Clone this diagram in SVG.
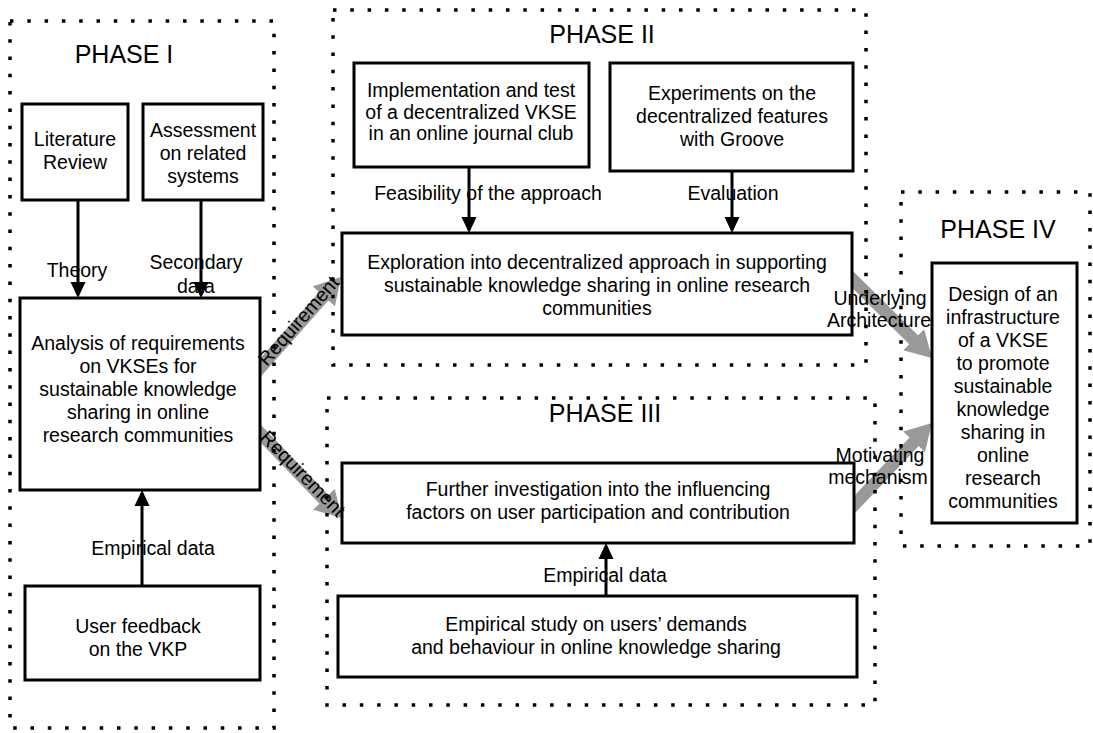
<svg xmlns="http://www.w3.org/2000/svg" width="1093" height="733" viewBox="0 0 1093 733">
  <style>
    text { font-family: "Liberation Sans", Arial, Helvetica, sans-serif; font-size: 19.5px; fill: #000; text-anchor: middle; }
    .title { font-size: 25px; }
    .phase { fill: none; stroke: #000; stroke-width: 3.5; stroke-dasharray: 3.5 13.8; }
    .box { fill: #fff; stroke: #000; stroke-width: 3; }
    .flow { stroke: #000; stroke-width: 3; fill: none; marker-end: url(#ah); }
    .feed { stroke: #999; stroke-width: 12.5; fill: none; marker-end: url(#gh); }
  </style>
  <defs>
    <marker id="ah" markerUnits="userSpaceOnUse" markerWidth="16" markerHeight="16" viewBox="0 0 16 16" refX="13" refY="8" orient="auto">
      <path d="M0,0.5 L16,8 L0,15.5 z" fill="#000"/>
    </marker>
    <marker id="gh" markerUnits="userSpaceOnUse" markerWidth="26" markerHeight="30" viewBox="0 0 26 30" refX="6" refY="15" orient="auto">
      <path d="M0,0 L26,15 L0,30 z" fill="#999"/>
    </marker>
  </defs>
  <rect width="1093" height="733" fill="#fff"/>

  <!-- arrows between the studies -->
  <g id="connectors">
    <line class="flow" x1="78" y1="200" x2="78" y2="295"/>
    <line class="flow" x1="201" y1="200" x2="201" y2="295"/>
    <line class="flow" x1="142" y1="586" x2="142" y2="493"/>
    <line class="flow" x1="469" y1="167" x2="469" y2="230"/>
    <line class="flow" x1="732" y1="171" x2="732" y2="230"/>
    <line class="flow" x1="606" y1="596" x2="606" y2="546"/>
    <line class="feed" x1="256" y1="372.5" x2="327.7" y2="291.9"/>
    <line class="feed" x1="256" y1="428.8" x2="328.1" y2="503.6"/>
    <line class="feed" x1="848" y1="275" x2="917.8" y2="343.9"/>
    <line class="feed" x1="850" y1="509.2" x2="918.2" y2="437.5"/>
  </g>

  <!-- phase frames -->
  <g id="phases">
    <rect id="phase-1" class="phase" x="10" y="21" width="264" height="707"/>
    <rect id="phase-2" class="phase" x="333" y="10" width="533" height="355"/>
    <rect id="phase-3" class="phase" x="327" y="398" width="548" height="307"/>
    <rect id="phase-4" class="phase" x="901" y="192" width="189" height="354"/>
    <text class="title" x="124" y="63">PHASE I</text>
    <text class="title" x="602" y="43">PHASE II</text>
    <text class="title" x="605" y="422">PHASE III</text>
    <text class="title" x="998" y="238">PHASE IV</text>
  </g>

  <!-- Phase I -->
  <g id="literature-review">
    <rect class="box" x="22" y="104" width="106" height="96"/>
    <text x="75" y="146">Literature</text>
    <text x="75" y="169">Review</text>
  </g>
  <g id="assessment">
    <rect class="box" x="143" y="104" width="120" height="96"/>
    <text x="203" y="137">Assessment</text>
    <text x="203" y="160">on related</text>
    <text x="203" y="183">systems</text>
  </g>
  <g id="analysis">
    <rect class="box" x="20" y="298" width="240" height="192"/>
    <text x="138" y="350">Analysis of requirements</text>
    <text x="138" y="373">on VKSEs for</text>
    <text x="138" y="396">sustainable knowledge</text>
    <text x="138" y="419">sharing in online</text>
    <text x="138" y="442">research communities</text>
  </g>
  <g id="user-feedback">
    <rect class="box" x="25" y="586" width="235" height="94"/>
    <text x="138" y="633">User feedback</text>
    <text x="138" y="656">on the VKP</text>
  </g>

  <!-- Phase II -->
  <g id="implementation">
    <rect class="box" x="354" y="63" width="235" height="104"/>
    <text x="471" y="97">Implementation and test</text>
    <text x="471" y="118.5">of a decentralized VKSE</text>
    <text x="471" y="140">in an online journal club</text>
  </g>
  <g id="experiments">
    <rect class="box" x="610" y="63" width="243" height="108"/>
    <text x="732" y="100">Experiments on the</text>
    <text x="732" y="123">decentralized features</text>
    <text x="732" y="146">with Groove</text>
  </g>
  <g id="exploration">
    <rect class="box" x="342" y="233" width="510" height="102"/>
    <text x="597" y="269">Exploration into decentralized approach in supporting</text>
    <text x="597" y="292">sustainable knowledge sharing in online research</text>
    <text x="597" y="315">communities</text>
  </g>

  <!-- Phase III -->
  <g id="further-investigation">
    <rect class="box" x="342" y="463" width="512" height="80"/>
    <text x="598" y="496">Further investigation into the influencing</text>
    <text x="598" y="519">factors on user participation and contribution</text>
  </g>
  <g id="empirical-study">
    <rect class="box" x="338" y="596" width="519" height="81"/>
    <text x="596" y="631">Empirical study on users’ demands</text>
    <text x="596" y="654">and behaviour in online knowledge sharing</text>
  </g>

  <!-- Phase IV -->
  <g id="design">
    <rect class="box" x="932" y="263" width="145" height="260"/>
    <text x="1003" y="301">Design of an</text>
    <text x="1003" y="324">infrastructure</text>
    <text x="1003" y="347">of a VKSE</text>
    <text x="1003" y="370">to promote</text>
    <text x="1003" y="393">sustainable</text>
    <text x="1003" y="416">knowledge</text>
    <text x="1003" y="439">sharing in</text>
    <text x="1003" y="462">online</text>
    <text x="1003" y="485">research</text>
    <text x="1003" y="508">communities</text>
  </g>

  <!-- arrow labels -->
  <g id="connector-labels">
    <text x="77" y="277">Theory</text>
    <text x="196" y="269">Secondary</text>
    <text x="196" y="293">data</text>
    <text x="153" y="555">Empirical data</text>
    <text x="488" y="200">Feasibility of the approach</text>
    <text x="733" y="200">Evaluation</text>
    <text x="605" y="582">Empirical data</text>
    <text x="880" y="305">Underlying</text>
    <text x="879" y="327">Architecture</text>
    <text x="880" y="462">Motivating</text>
    <text x="878" y="484">mechanism</text>
    <text transform="translate(300.5,322.5) rotate(-48.7)" y="4">Requirement</text>
    <text transform="translate(301,475.5) rotate(45.6)" y="4">Requirement</text>
  </g>
</svg>
